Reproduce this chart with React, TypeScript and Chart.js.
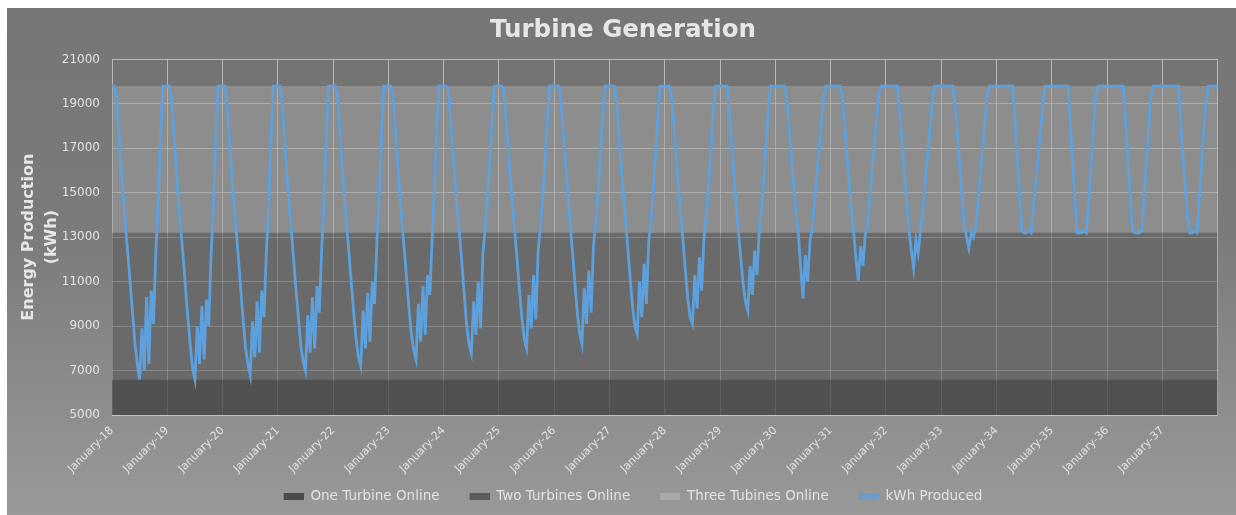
import { useEffect, useRef } from "react";
import { Chart, registerables } from "chart.js";

Chart.register(...registerables);

// ---------- DATA ----------
const yearLabels = [
  "January-18", "January-19", "January-20", "January-21", "January-22",
  "January-23", "January-24", "January-25", "January-26", "January-27",
  "January-28", "January-29", "January-30", "January-31", "January-32",
  "January-33", "January-34", "January-35", "January-36", "January-37",
];

const bandNames = ["One Turbine Online", "Two Turbines Online", "Three Tubines Online"];
const bandLevels = [6600, 13200, 19800];
const lineName = "kWh Produced";

// kWh produced, half-month samples (24 per year)
const kwh2018 = [19800, 19800, 19200, 17700, 16100, 14700, 13300, 12100, 10800, 9500, 8200, 7300, 6600, 8900, 7000, 10300, 7300, 10600, 9100, 12300, 14400, 17300, 19800, 19800];
const kwh2019 = [19800, 19800, 19100, 17500, 15900, 14500, 13200, 12000, 10600, 9300, 8100, 7100, 6600, 9000, 7300, 9900, 7500, 10200, 9000, 12200, 14300, 17200, 19800, 19800];
const kwh2020 = [19800, 19800, 19000, 17400, 15800, 14400, 13200, 11900, 10500, 9200, 8000, 7300, 6800, 9200, 7600, 10100, 7800, 10600, 9400, 12300, 14400, 17300, 19800, 19800];
const kwh2021 = [19800, 19800, 19000, 17300, 15700, 14300, 13100, 11800, 10500, 9300, 8100, 7400, 7000, 9500, 7800, 10300, 8000, 10800, 9600, 12400, 14500, 17400, 19800, 19800];
const kwh2022 = [19800, 19800, 19300, 17700, 16100, 14600, 13400, 12100, 10800, 9500, 8400, 7600, 7200, 9700, 8000, 10500, 8300, 11000, 10000, 12800, 14800, 17600, 19800, 19800];
const kwh2023 = [19800, 19800, 19400, 17900, 16300, 14800, 13500, 12300, 11000, 9700, 8600, 7900, 7500, 10000, 8300, 10800, 8600, 11300, 10400, 13000, 15100, 17900, 19800, 19800];
const kwh2024 = [19800, 19800, 19700, 18300, 16800, 15400, 14100, 13000, 11700, 10300, 9000, 8200, 7800, 10100, 8600, 11000, 8900, 12200, 13400, 14700, 16400, 18200, 19800, 19800];
const kwh2025 = [19800, 19800, 19700, 18400, 17000, 15600, 14300, 13100, 11800, 10500, 9300, 8400, 8000, 10400, 8900, 11300, 9300, 12400, 13500, 14800, 16500, 18300, 19800, 19800];
const kwh2026 = [19800, 19800, 19800, 19000, 17600, 16200, 14800, 13500, 12200, 10900, 9600, 8700, 8200, 10700, 9100, 11500, 9600, 12600, 13600, 15000, 16700, 18400, 19800, 19800];
const kwh2027 = [19800, 19800, 19800, 19100, 17700, 16300, 15000, 13700, 12400, 11100, 9900, 9000, 8650, 11000, 9400, 11800, 10000, 12800, 13700, 15100, 16800, 18500, 19800, 19800];
const kwh2028 = [19800, 19800, 19800, 19300, 18000, 16600, 15200, 13900, 12700, 11400, 10200, 9400, 9100, 11300, 9800, 12100, 10600, 13000, 13900, 15300, 17000, 18700, 19800, 19800];
const kwh2029 = [19800, 19800, 19800, 19800, 18600, 17200, 15800, 14400, 13200, 12000, 10900, 10100, 9700, 11700, 10400, 12400, 11300, 13300, 14300, 15700, 17300, 18900, 19800, 19800];
const kwh2030 = [19800, 19800, 19800, 19800, 19800, 19200, 17900, 16600, 15300, 14000, 13100, 11600, 10250, 12200, 11000, 12800, 13400, 14600, 15800, 17000, 18200, 19300, 19800, 19800];
const kwh2031 = [19800, 19800, 19800, 19800, 19800, 19400, 18100, 16800, 15500, 14200, 13200, 12000, 11050, 12600, 11700, 13100, 13600, 14800, 16000, 17200, 18400, 19500, 19800, 19800];
const kwh2032 = [19800, 19800, 19800, 19800, 19800, 19800, 18600, 17300, 15900, 14600, 13300, 12400, 11600, 12900, 12300, 13300, 14200, 15400, 16600, 17800, 19000, 19800, 19800, 19800];
const kwh2033 = [19800, 19800, 19800, 19800, 19800, 19800, 19000, 17700, 16300, 14900, 13500, 13000, 12500, 13200, 13000, 13500, 14600, 15800, 17000, 18200, 19400, 19800, 19800, 19800];
const kwh2034 = [19800, 19800, 19800, 19800, 19800, 19800, 19800, 19800, 18300, 16600, 14900, 13300, 13200, 13200, 13300, 13200, 14300, 15400, 16500, 17700, 18800, 19800, 19800, 19800];
const kwh2035 = [19800, 19800, 19800, 19800, 19800, 19800, 19800, 19800, 18200, 16500, 14800, 13200, 13200, 13200, 13300, 13200, 14600, 16200, 17800, 19300, 19800, 19800, 19800, 19800];
const kwh2036 = [19800, 19800, 19800, 19800, 19800, 19800, 19800, 19800, 18200, 16600, 14900, 13300, 13200, 13200, 13200, 13300, 14700, 16300, 17800, 19300, 19800, 19800, 19800, 19800];
const kwh2037 = [19800, 19800, 19800, 19800, 19800, 19800, 19800, 19800, 18100, 16600, 15100, 13800, 13200, 13200, 13300, 13200, 14700, 16300, 17800, 19200, 19800, 19800, 19800, 19800];
const kwhFinal = [19800];

const kwhYears = [
  kwh2018, kwh2019, kwh2020, kwh2021, kwh2022, kwh2023, kwh2024, kwh2025, kwh2026, kwh2027,
  kwh2028, kwh2029, kwh2030, kwh2031, kwh2032, kwh2033, kwh2034, kwh2035, kwh2036, kwh2037,
];

// ---------- STYLE ----------
const bandFills = ["rgba(72,72,72,0.8)", "rgba(100,100,100,0.6)", "rgba(162,162,162,0.55)"];
const legendSwatches = ["#4b4b4b", "#5c5c5c", "#a9a9a9", "#6b9cc9"];
const lineColor = "#5ca1dd";
const textColor = "#e2e2e2";
const gridColor = "rgba(228,228,228,0.6)";
const SWATCH_W = 20;
const SWATCH_H = 7;
const SWATCH_GAP = 20;

function makeSwatch(color: string): HTMLCanvasElement {
  const c = document.createElement("canvas");
  c.width = SWATCH_W + SWATCH_GAP;
  c.height = SWATCH_H;
  const g = c.getContext("2d");
  if (g) {
    g.fillStyle = color;
    g.fillRect(SWATCH_GAP, 0, SWATCH_W, SWATCH_H);
  }
  return c;
}

export default function App() {
  const canvasRef = useRef<HTMLCanvasElement | null>(null);

  useEffect(() => {
    if (!canvasRef.current) return;
    Chart.defaults.font.family = "'DejaVu Sans', sans-serif";

    const perYear = kwhYears[0].length;
    const linePoints: { x: number; y: number }[] = [];
    kwhYears.forEach((yr, yi) => {
      yr.forEach((v, k) => linePoints.push({ x: yi + k / perYear, y: v }));
    });
    linePoints.push({ x: kwhYears.length, y: kwhFinal[0] });

    const swatches = legendSwatches.map(makeSwatch);

    const bandDatasets = bandLevels.map((lvl, i) => ({
      type: "line" as const,
      label: bandNames[i],
      data: [
        { x: 0, y: lvl },
        { x: yearLabels.length, y: lvl },
      ],
      borderWidth: 0,
      borderColor: "rgba(0,0,0,0)",
      backgroundColor: bandFills[i],
      pointRadius: 0,
      fill: i === 0 ? "origin" : "-1",
      order: 3 - i + 1,
    }));

    const areaBg = {
      id: "areaBg",
      beforeDraw(chart: any) {
        const { ctx, chartArea } = chart;
        ctx.save();
        ctx.fillStyle = "#747474";
        ctx.fillRect(chartArea.left, chartArea.top, chartArea.right - chartArea.left, chartArea.bottom - chartArea.top);
        ctx.restore();
      },
    };

    const chart = new Chart(canvasRef.current, {
      type: "line",
      data: {
        datasets: [
          ...bandDatasets,
          {
            type: "line" as const,
            label: lineName,
            data: linePoints,
            borderColor: lineColor,
            backgroundColor: lineColor,
            borderWidth: 2.8,
            pointRadius: 0,
            tension: 0,
            fill: false,
            order: 0,
          },
        ],
      },
      plugins: [areaBg],
      options: {
        animation: false,
        responsive: true,
        maintainAspectRatio: false,
        layout: { padding: { left: 20, right: 17, top: 0, bottom: 2 } },
        plugins: {
          title: {
            display: true,
            text: "Turbine Generation",
            color: "#e6e6e6",
            font: { size: 24.5, weight: "bold" },
            padding: { top: 8, bottom: 14 },
          },
          legend: {
            position: "bottom",
            labels: {
              color: textColor,
              font: { size: 13.5 },
              usePointStyle: true,
              pointStyleWidth: SWATCH_W + SWATCH_GAP,
              boxHeight: SWATCH_H,
              padding: 10,
              generateLabels: (c: any) => {
                const items = Chart.defaults.plugins.legend.labels.generateLabels(c);
                items.forEach((it: any) => {
                  it.pointStyle = swatches[it.datasetIndex];
                  it.fillStyle = legendSwatches[it.datasetIndex];
                  it.strokeStyle = legendSwatches[it.datasetIndex];
                  it.lineWidth = 0;
                });
                return items.sort((a: any, b: any) => a.datasetIndex - b.datasetIndex);
              },
            },
          },
          tooltip: { enabled: false },
        },
        scales: {
          x: {
            type: "linear",
            min: 0,
            max: yearLabels.length,
            border: { display: false },
            grid: { color: gridColor, drawTicks: false },
            ticks: {
              stepSize: 1,
              autoSkip: false,
              maxRotation: 45,
              minRotation: 45,
              color: textColor,
              font: { size: 11 },
              padding: 9,
              callback: (v: any) => yearLabels[v] ?? "",
            },
            afterFit: (s: any) => {
              s.height = 64.5;
            },
          },
          y: {
            min: 5000,
            max: 21000,
            border: { display: false },
            grid: { color: gridColor, drawTicks: false },
            ticks: {
              stepSize: 2000,
              color: textColor,
              font: { size: 12 },
              padding: 12,
              callback: (v: any) => String(v),
            },
            title: {
              display: true,
              text: ["Energy Production", "(kWh)"],
              color: "#e6e6e6",
              font: { size: 16, weight: "bold", lineHeight: 1.45 },
              padding: { top: -10, bottom: 0 },
            },
            afterFit: (s: any) => {
              s.width = 85;
            },
          },
        },
      } as any,
    });

    return () => chart.destroy();
  }, []);

  return (
    <div
      style={{
        position: "absolute",
        left: 7,
        top: 8,
        width: 1229,
        height: 507,
        background: "linear-gradient(180deg, #767676 0%, #7b7b7b 45%, #999999 100%)",
      }}
    >
      <canvas ref={canvasRef} />
    </div>
  );
}
